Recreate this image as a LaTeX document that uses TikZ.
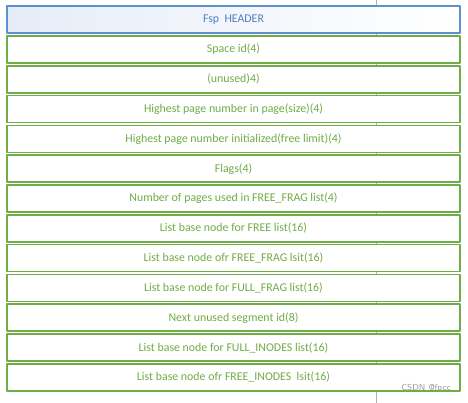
\documentclass[tikz,border=0pt]{standalone}
\usepackage{fontspec}
\setmainfont{Carlito}
\usetikzlibrary{positioning}

\definecolor{fspblue}{RGB}{79,129,189}
\definecolor{fspedge}{RGB}{91,145,205}
\definecolor{fspgreen}{RGB}{112,173,71}
\definecolor{fsptint}{RGB}{230,236,247}

\tikzset{
  field/.style={draw=fspgreen, line width=1.1pt, fill=white, text=fspgreen,
    minimum width=453*0.75pt, minimum height=27*0.75pt, inner sep=0pt,
    font=\fontsize{8.9}{10}\selectfont},
  hdrbox/.style={field, draw=fspedge, text=fspblue, left color=fsptint, right color=white}
}

\begin{document}
\begin{tikzpicture}[x=0.75pt, y=-0.75pt, line cap=round, line join=round]

\useasboundingbox (0,0) rectangle (468,403);
\draw[gray!60, line width=0.7pt] (376,0) -- (376,403);

\node[hdrbox] (hdr) at (233.5,19.5) {Fsp\ \ HEADER};
\node[field] (spaceid) at (233.5,49.5) {Space id(4)};
\node[field] (unused) at (233.5,79.3) {(unused)4)};
\node[field] (size) at (233.5,109.1) {Highest page number in page(size)(4)};
\node[field] (freelim) at (233.5,138.9) {Highest page number initialized(free limit)(4)};
\node[field] (flags) at (233.5,168.7) {Flags(4)};
\node[field] (fragused) at (233.5,198.5) {Number of pages used in FREE\_FRAG list(4)};
\node[field] (freelst) at (233.5,228.3) {List base node for FREE list(16)};
\node[field] (fraglst) at (233.5,258.1) {List base node ofr FREE\_FRAG lsit(16)};
\node[field] (fulllst) at (233.5,287.9) {List base node for FULL\_FRAG list(16)};
\node[field] (segid) at (233.5,317.7) {Next unused segment id(8)};
\node[field] (fullino) at (233.5,347.5) {List base node for FULL\_INODES list(16)};
\node[field] (freeino) at (233.5,377.3) {List base node ofr FREE\_INODES\ \ lsit(16)};

\node[text=gray!80, font=\sffamily\fontsize{6.5}{8}\selectfont] (mark) at (426,388) {CSDN @fpcc};

\end{tikzpicture}
\end{document}
